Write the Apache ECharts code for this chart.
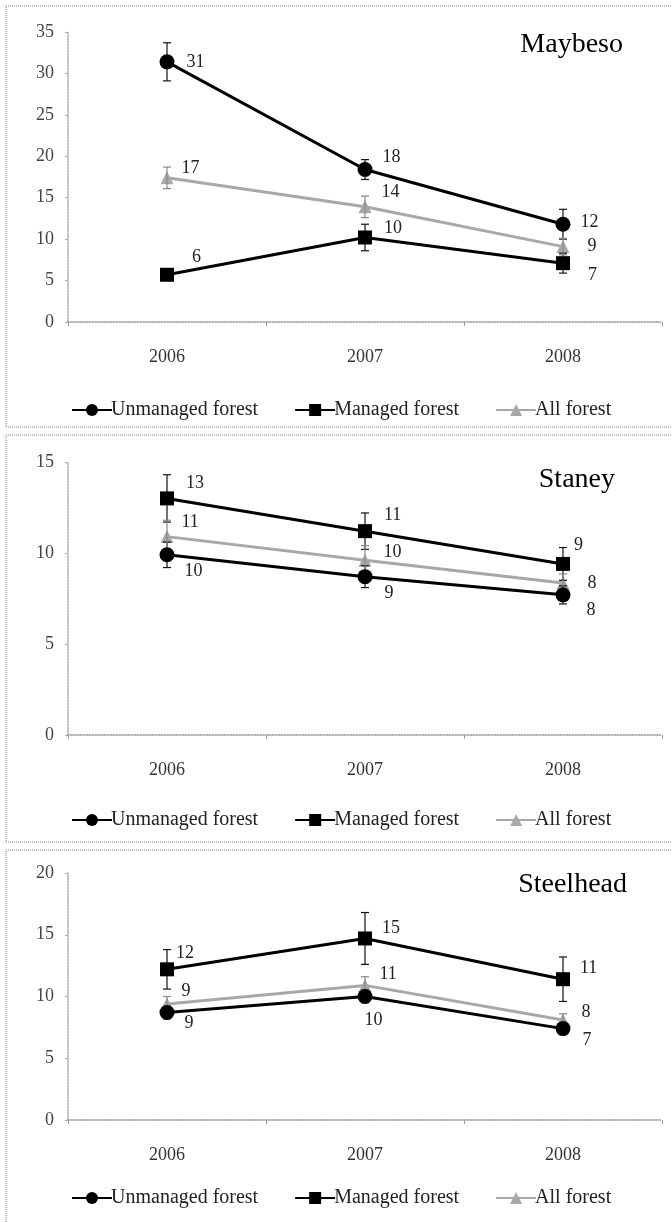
<!DOCTYPE html>
<html>
<head>
<meta charset="utf-8">
<script src="https://cdn.jsdelivr.net/npm/echarts@6/dist/echarts.min.js"></script>
<style>
html,body{margin:0;padding:0;background:#fff;}
#chart{width:672px;height:1222px;}
</style>
</head>
<body>
<div id="chart"></div>
<script>
// ---------- data ----------
const categories = ['2006', '2007', '2008'];
const seriesNames = ['Unmanaged forest', 'Managed forest', 'All forest'];
const panelTitles = ['Maybeso', 'Staney', 'Steelhead'];
const yMax = [35, 15, 20];
const yInterval = [5, 5, 5];

const maybesoUnmanaged = [31.4, 18.4, 11.8];
const maybesoUnmanagedErr = [2.3, 1.2, 1.8];
const maybesoManaged = [5.7, 10.2, 7.1];
const maybesoManagedErr = [0.5, 1.6, 1.2];
const maybesoAll = [17.4, 13.9, 9.1];
const maybesoAllErr = [1.3, 1.3, 1.0];

const staneyUnmanaged = [9.9, 8.7, 7.7];
const staneyUnmanagedErr = [0.7, 0.6, 0.5];
const staneyManaged = [13.0, 11.2, 9.4];
const staneyManagedErr = [1.3, 1.0, 0.9];
const staneyAll = [10.9, 9.6, 8.35];
const staneyAllErr = [0.9, 0.8, 0.5];

const steelheadUnmanaged = [8.7, 10.0, 7.4];
const steelheadUnmanagedErr = [0.5, 0.5, 0.4];
const steelheadManaged = [12.2, 14.7, 11.4];
const steelheadManagedErr = [1.6, 2.1, 1.8];
const steelheadAll = [9.4, 10.9, 8.1];
const steelheadAllErr = [0.6, 0.7, 0.5];

const panelValues = [
  [maybesoUnmanaged, maybesoManaged, maybesoAll],
  [staneyUnmanaged, staneyManaged, staneyAll],
  [steelheadUnmanaged, steelheadManaged, steelheadAll]
];
const panelErrors = [
  [maybesoUnmanagedErr, maybesoManagedErr, maybesoAllErr],
  [staneyUnmanagedErr, staneyManagedErr, staneyAllErr],
  [steelheadUnmanagedErr, steelheadManagedErr, steelheadAllErr]
];

// ---------- layout / style ----------
const FONT = '"Liberation Serif", "DejaVu Serif", serif';
const grids = [
  {left: 68, right: 10, top: 32, height: 290},
  {left: 68, right: 10, top: 462, height: 273},
  {left: 68, right: 10, top: 873, height: 247}
];
const legendTops = [395, 805, 1183];
const titlePos = [
  {right: 44, top: 26},
  {right: 52, top: 461},
  {right: 40, top: 866}
];
const panelBoxes = [
  {y: 6, h: 421},
  {y: 435, h: 407},
  {y: 850, h: 380}
];
// label offsets [panel][series][point]
const labelOffsets = [
  [[[6, 0], [4, -12], [4, -2]], [[12, -18], [6, -9], [12, 12]], [[2, -10], [4, -15], [12, 0]]],
  [[[4, 16], [6, 17], [10, 15]], [[6, -15], [6, -16], [-2, -19]], [[2, -14], [6, -8], [12, 0]]],
  [[[4, 11], [-14, 24], [6, 12]], [[-4, -16], [4, -10], [4, -11]], [[2, -13], [2, -11], [6, -8]]]
];
const colors = ['#000000', '#000000', '#a8a8a8'];
const symbols = ['circle', 'rect', 'triangle'];
const symbolSizes = [15, 14, 13];
const errColors = ['#111', '#111', '#888'];

const xAxes = [], yAxes = [], series = [], legends = [], titles = [], graphics = [];

for (let p = 0; p < 3; p++) {
  xAxes.push({
    type: 'category', gridIndex: p, data: categories, boundaryGap: true,
    axisLine: {lineStyle: {color: '#999', width: 1.5, type: 'dotted'}},
    axisTick: {show: true, length: 4, lineStyle: {color: '#999'}},
    axisLabel: {margin: 26, fontFamily: FONT, fontSize: 18, color: '#333'},
    splitLine: {show: false}
  });
  yAxes.push({
    type: 'value', gridIndex: p, min: 0, max: yMax[p], interval: yInterval[p],
    axisLine: {show: true, lineStyle: {color: '#aaa', width: 1.5, type: 'dotted'}},
    axisTick: {show: true, length: 3, lineStyle: {color: '#aaa'}},
    axisLabel: {margin: 14, fontFamily: FONT, fontSize: 18, color: '#444'},
    splitLine: {show: false}
  });
  legends.push({
    data: seriesNames, top: legendTops[p], left: 66, orient: 'horizontal',
    itemWidth: 40, itemHeight: 15, itemGap: 36,
    textStyle: {fontFamily: FONT, fontSize: 20, color: '#222', padding: [0, 0, 0, -6]},
    selectedMode: false
  });
  titles.push({
    text: panelTitles[p], right: titlePos[p].right, top: titlePos[p].top,
    textStyle: {fontFamily: FONT, fontSize: 28, fontWeight: 'normal', color: '#000'}
  });
  graphics.push({
    type: 'rect', silent: true, z: -10,
    shape: {x: 6, y: panelBoxes[p].y, width: 700, height: panelBoxes[p].h},
    style: {fill: 'none', stroke: '#aaa', lineWidth: 1.5, lineDash: [1, 1]}
  });

  for (let s = 0; s < 3; s++) {
    const vals = panelValues[p][s];
    const errs = panelErrors[p][s];
    const errColor = errColors[s];
    // error bars
    series.push({
      type: 'custom', xAxisIndex: p, yAxisIndex: p, z: 3, silent: true,
      data: vals.map((v, i) => [i, v - errs[i], v + errs[i]]),
      encode: {x: 0, y: [1, 2]},
      renderItem: function (params, api) {
        const lo = api.coord([api.value(0), api.value(1)]);
        const hi = api.coord([api.value(0), api.value(2)]);
        const c = 4;
        const st = {stroke: errColor, lineWidth: 1.2};
        return {
          type: 'group',
          children: [
            {type: 'line', shape: {x1: lo[0], y1: lo[1], x2: hi[0], y2: hi[1]}, style: st},
            {type: 'line', shape: {x1: lo[0] - c, y1: lo[1], x2: lo[0] + c, y2: lo[1]}, style: st},
            {type: 'line', shape: {x1: hi[0] - c, y1: hi[1], x2: hi[0] + c, y2: hi[1]}, style: st}
          ]
        };
      }
    });
    series.push({
      name: seriesNames[s], type: 'line', xAxisIndex: p, yAxisIndex: p,
      z: s === 2 ? 2 : 4,
      data: vals.map((v, i) => ({
        value: v,
        label: {offset: labelOffsets[p][s][i]}
      })),
      symbol: symbols[s], symbolSize: symbolSizes[s],
      itemStyle: {color: colors[s]},
      lineStyle: {color: colors[s], width: 3},
      label: {
        show: true, position: 'right', distance: 6,
        fontFamily: FONT, fontSize: 18, color: '#222',
        formatter: (d) => String(Math.round(d.value))
      },
      animation: false
    });
  }
}

const chart = echarts.init(document.getElementById('chart'), null, {renderer: 'canvas'});
chart.setOption({
  backgroundColor: '#fff',
  animation: false,
  title: titles,
  grid: grids,
  xAxis: xAxes,
  yAxis: yAxes,
  legend: legends,
  graphic: graphics,
  series: series
});
</script>
</body>
</html>
